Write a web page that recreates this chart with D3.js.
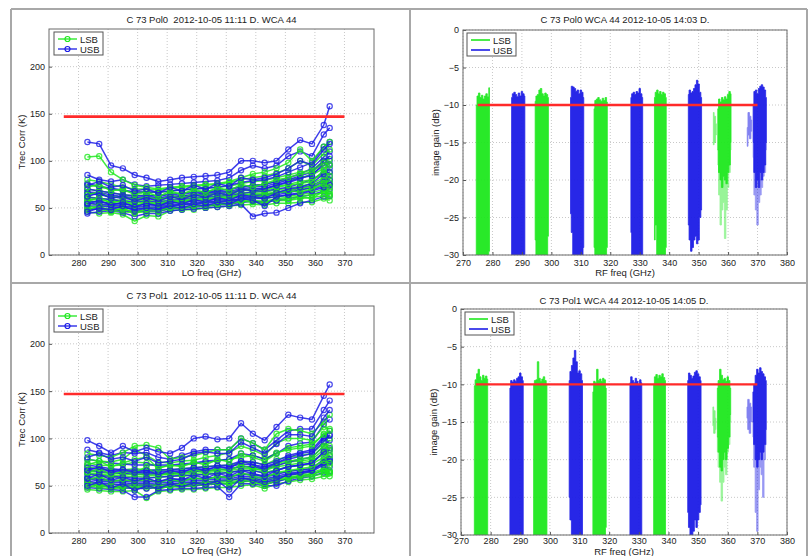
<!DOCTYPE html>
<html>
<head>
<meta charset="utf-8">
<script src="https://cdn.jsdelivr.net/npm/d3@7"></script>
<style>
  body { margin: 0; background: #fff; }
  text { font-family: "Liberation Sans", Arial, sans-serif; fill: #222; white-space: pre; }
  .tick text { font-size: 9px; fill: #222; }
  .tick line { stroke: #555; }
</style>
</head>
<body>
<script>
// ---- chart values ----

// LO frequencies for the Trec plots (GHz)
const LO = [283,287,291,295,299,303,307,311,315,319,323,327,331,335,339,343,347,351,355,359,363,365];
const LO_TICKS = [280,290,300,310,320,330,340,350,360,370];
const TREC_TICKS = [0,50,100,150,200];
const TREC_LIMIT = 147;
const RF_TICKS = [270,280,290,300,310,320,330,340,350,360,370,380];
const GAIN_TICKS = [0,-5,-10,-15,-20,-25,-30];
const GAIN_LIMIT = -10;
const LIMIT_RANGE = [275, 370];
const BAND_STEP = 0.5; // GHz between gain samples

// Pol0 Trec, one row per curve
const POL0_LSB = [
  [46,44,45,43,36,42,41,47,48,48,50,51,52,53,54,53,55,55,56,56,60,58],
  [50,48,47,46,45,46,46,49,50,51,52,53,55,56,57,56,58,58,60,61,63,62],
  [55,53,52,51,50,50,51,52,54,55,56,57,58,60,61,60,62,63,64,66,70,68],
  [58,56,55,54,53,54,54,55,57,58,59,60,61,63,64,64,66,67,69,71,76,74],
  [62,60,59,58,57,58,57,59,60,61,62,63,64,66,67,67,69,71,73,76,82,80],
  [66,64,62,61,60,61,60,62,63,64,65,66,67,69,70,71,73,75,78,80,86,88],
  [70,68,66,64,63,64,63,65,66,67,68,69,70,72,74,75,78,80,82,85,92,95],
  [75,72,70,68,67,67,66,68,69,70,71,72,73,76,78,79,82,85,88,90,100,102],
  [80,78,75,72,70,70,69,71,72,73,74,75,77,80,82,84,87,92,100,95,108,112],
  [104,105,88,80,74,72,70,72,73,74,75,76,78,82,86,88,92,98,112,100,115,120],
  [52,50,49,48,47,48,48,50,51,52,53,54,56,57,58,57,60,61,62,64,66,65],
  [60,58,57,56,55,56,55,57,58,59,60,61,62,64,65,65,67,69,71,73,79,77],
  [48,52,46,50,44,49,47,51,49,53,51,55,53,58,56,55,60,58,62,60,68,64],
  [57,61,55,58,52,56,53,58,55,60,57,62,59,65,62,62,66,68,67,70,75,72],
  [64,67,60,63,58,62,58,63,60,65,62,66,63,70,68,69,72,74,76,78,90,84],
  [72,75,68,70,64,67,62,68,64,70,66,72,68,75,72,76,80,82,86,88,98,96]
];
const POL0_USB = [
  [44,46,47,45,41,44,44,47,48,49,50,51,52,54,41,44,45,50,55,58,62,63],
  [48,49,48,47,46,47,47,49,50,51,52,53,54,56,57,56,58,60,62,64,68,70],
  [52,52,51,50,49,50,50,52,53,54,55,56,57,59,60,60,62,64,66,69,74,76],
  [57,56,55,54,53,54,53,55,56,57,58,59,60,62,63,64,66,68,71,74,80,84],
  [61,60,59,57,56,57,56,58,59,60,61,62,63,65,67,68,70,72,76,80,88,92],
  [65,64,62,60,59,60,59,61,62,63,64,65,66,68,70,71,74,77,81,86,95,100],
  [70,68,66,64,63,63,63,64,65,66,67,68,70,72,74,75,78,82,86,92,104,110],
  [76,73,71,69,67,67,67,68,69,70,71,72,74,77,79,80,83,88,93,98,115,120],
  [85,80,78,80,75,73,74,75,76,77,78,79,82,90,95,92,95,105,110,105,128,135],
  [120,118,95,92,85,82,78,80,82,83,84,85,88,100,100,98,100,112,122,118,138,158],
  [55,54,53,52,51,52,52,53,54,55,56,57,58,60,62,62,64,66,69,72,78,80],
  [67,66,64,62,61,62,61,62,63,64,66,67,68,70,72,73,76,80,84,88,100,105],
  [46,50,48,52,47,50,48,52,50,54,52,56,54,60,58,52,62,64,65,68,72,74],
  [54,58,53,56,51,55,52,57,54,59,56,61,58,64,62,60,66,70,72,76,86,88],
  [62,66,60,63,57,61,57,62,59,64,61,66,63,70,68,70,74,78,82,84,98,96],
  [74,78,72,74,68,70,66,72,68,74,70,76,73,82,80,82,86,92,100,96,112,118]
];

// Pol1 Trec
const POL1_LSB = [
  [46,45,44,44,45,37,44,45,46,46,47,48,48,50,51,47,52,54,56,57,60,60],
  [50,48,47,47,48,47,48,49,49,50,51,52,52,54,55,51,55,57,59,60,63,63],
  [54,52,51,51,52,51,51,52,52,53,54,55,56,58,58,56,59,61,63,64,68,66],
  [58,56,55,55,56,55,55,56,56,57,58,59,60,62,62,60,63,65,67,68,74,72],
  [62,60,59,59,60,59,59,60,60,61,62,63,64,66,66,64,67,70,71,73,80,78],
  [66,64,63,63,64,63,62,63,64,65,66,67,68,70,70,68,72,75,76,78,88,85],
  [70,68,67,67,68,67,66,67,68,69,70,71,72,74,75,72,78,80,82,84,95,92],
  [74,72,71,72,75,74,70,71,72,73,75,76,78,80,82,78,85,88,90,92,105,100],
  [78,76,75,78,88,82,75,74,76,77,80,82,85,92,88,82,95,100,100,98,112,110],
  [84,82,80,85,92,93,90,78,80,82,85,88,88,100,95,88,105,110,108,105,118,125],
  [52,50,49,49,50,49,50,51,51,52,53,54,54,56,57,53,57,59,61,62,66,64],
  [64,62,61,61,62,61,61,62,62,63,64,65,66,68,68,66,70,72,74,76,84,82],
  [48,52,47,50,47,50,46,50,48,52,50,54,51,56,54,50,56,58,60,62,66,64],
  [56,60,54,57,54,58,53,57,54,59,56,60,58,64,60,58,64,66,68,70,76,74],
  [64,68,62,65,64,70,60,65,62,67,64,68,66,72,68,66,74,76,78,80,92,88],
  [72,76,70,74,78,80,68,72,70,75,72,78,75,84,80,76,84,90,92,94,104,108]
];
const POL1_USB = [
  [48,47,46,45,38,38,45,46,47,47,48,49,38,52,52,50,50,55,58,60,64,65],
  [52,50,49,48,47,47,48,49,50,50,51,52,52,55,55,52,54,58,60,62,67,70],
  [55,53,52,51,50,50,51,52,53,53,54,55,55,58,58,55,58,61,63,65,72,75],
  [59,57,56,55,54,54,55,56,57,57,58,59,59,62,62,59,62,65,67,68,78,82],
  [63,61,60,59,58,58,59,60,61,61,62,63,64,66,66,63,66,70,72,74,85,90],
  [67,65,64,63,62,62,63,63,64,65,66,67,68,70,70,67,71,75,78,80,92,98],
  [72,70,68,67,66,66,67,67,68,69,70,71,72,76,75,72,76,82,85,88,102,108],
  [78,76,74,73,72,72,72,72,73,74,76,77,78,84,82,78,84,92,95,96,115,120],
  [88,85,82,85,84,85,80,78,82,86,88,88,88,100,95,88,98,108,110,110,130,140],
  [98,92,85,92,86,90,86,84,90,100,102,99,100,116,105,98,112,125,122,120,145,157],
  [57,55,54,53,52,52,53,54,55,55,56,57,57,60,60,57,60,63,65,66,75,78],
  [69,67,66,65,64,64,65,65,66,67,68,69,70,73,72,70,74,78,81,84,97,103],
  [50,54,48,52,45,50,47,52,49,53,51,55,46,58,56,54,56,62,64,66,74,76],
  [58,62,56,59,55,58,54,58,56,61,58,63,60,66,63,60,66,70,72,74,86,88],
  [66,70,64,67,64,66,62,66,64,69,66,71,68,76,72,68,74,80,84,86,100,104],
  [80,84,78,80,76,80,74,76,78,84,86,84,84,96,90,84,94,104,104,102,122,130]
];

// Image gain bands: start freq, top edge, bottom edge (dB), sampled every BAND_STEP
const POL0_LSB_START = [274.5, 294.5, 314.5, 335, 356.5];
const POL0_LSB_TOP = [
  [-10.0,-8.8,-8.4,-9.0,-8.7,-9.2,-8.8,-8.5,-8.9,-7.7],
  [-9.5,-8.8,-8.6,-8.0,-7.8,-8.5,-8.8,-8.4,-8.6,-9.0],
  [-10.5,-9.4,-9.2,-9.0,-9.3,-9.5,-9.1,-9.4,-9.0,-9.6],
  [-9.0,-8.3,-8.0,-8.5,-8.2,-8.6,-8.3,-8.5,-9.0],
  [-10.5,-9.2,-9.6,-9.0,-9.3,-8.9,-9.2,-8.6,-8.2,-8.5]
];
const POL0_LSB_BOT = [
  [-31,-31,-31,-31,-31,-31,-31,-31,-31,-29.5],
  [-28,-31,-31,-31,-31,-31,-31,-31,-31,-27.5],
  [-29,-31,-31,-31,-31,-31,-31,-31,-31,-29],
  [-28,-26,-31,-31,-31,-31,-31,-31,-29],
  [-16,-19,-20,-21,-19.5,-20,-20.5,-19,-18,-15]
];
const POL0_LSB_TAIL = [null, null, null, null, [-18,-22,-26,-24,-23,-27.8,-24,-21,-19,-16]];
const POL0_USB_START = [286.5, 306.5, 327, 346.5, 368.5];
const POL0_USB_TOP = [
  [-9.0,-8.5,-8.3,-8.6,-8.9,-8.4,-8.8,-8.2,-8.5,-8.8],
  [-9.0,-7.5,-7.6,-7.8,-8.2,-8.0,-8.5,-8.0,-8.3,-9.0],
  [-9.0,-8.5,-8.3,-8.6,-8.2,-8.4,-7.8,-8.5,-9.0],
  [-8.6,-8.0,-8.4,-8.2,-7.8,-7.3,-6.7,-7.2,-8.3,-9.0],
  [-10,-8.2,-8.0,-8.5,-7.8,-7.5,-7.3,-7.6,-8.0,-9.0]
];
const POL0_USB_BOT = [
  [-31,-31,-31,-31,-31,-31,-31,-31,-31,-31],
  [-24.5,-27,-31,-31,-31,-31,-31,-31,-31,-29],
  [-27,-31,-31,-31,-31,-31,-31,-31,-31],
  [-26,-28,-29.5,-29,-28,-27.5,-28.5,-28,-25,-24],
  [-15,-19,-21,-20,-21,-19,-20,-19,-18,-15]
];
const POL0_USB_TAIL = [null, null, null, null, [-17,-22,-24,-26,-23,-22,-21,-19.5,-19,-16]];
// faint fragments next to the last two bands: start, top, bottom
const POL0_FAINT_LSB = [355, [-11,-11.5,-12.5], [-15.3,-15,-14]];
const POL0_FAINT_USB = [366.5, [-13,-11,-11.5,-12], [-15.5,-14,-14.5,-13.5]];

const POL1_LSB_START = [274.5, 294.5, 314.5, 335, 356.5];
const POL1_LSB_TOP = [
  [-10.2,-9.4,-8.6,-8.0,-9.0,-9.5,-8.8,-9.2,-8.9,-9.3],
  [-10,-9.5,-9.4,-7.0,-9.2,-9.6,-9.3,-9.0,-9.5,-10],
  [-11,-9.6,-9.8,-8.0,-9.5,-9.3,-9.6,-9.2,-9.4,-10.5],
  [-10,-9.0,-8.7,-9.2,-8.8,-9.0,-8.6,-9.1,-9.5],
  [-10.5,-9.5,-8.0,-8.8,-9.4,-9.2,-9.6,-9.0,-9.5,-10.5]
];
const POL1_LSB_BOT = [
  [-31,-31,-31,-31,-31,-31,-31,-31,-31,-30],
  [-31,-31,-31,-31,-31,-31,-31,-31,-31,-31],
  [-30,-31,-31,-31,-31,-31,-31,-31,-31,-29],
  [-31,-31,-31,-31,-31,-31,-31,-31,-31],
  [-17,-19,-21,-21.5,-20,-19,-20,-18.5,-17,-14]
];
const POL1_LSB_TAIL = [null, null, null, null, [-19,-21,-23,-25.5,-23,-21,-22,-19,-18,-15]];
const POL1_USB_START = [286.5, 306.5, 327, 346.5, 368.5];
const POL1_USB_TOP = [
  [-10.5,-9.5,-9.7,-9.4,-9.6,-9.2,-9.0,-8.5,-9.0,-9.5],
  [-9.5,-8.3,-7.5,-6.5,-5.5,-7.0,-8.5,-8.2,-8.6,-9.5],
  [-9.8,-9.0,-9.5,-9.8,-9.2,-9.6,-10,-9.4,-9.8],
  [-9.5,-8.5,-8.8,-9.2,-8.9,-8.4,-8.2,-8.6,-9.0,-9.5],
  [-11,-10,-8.8,-8.0,-8.5,-7.8,-8.3,-8.6,-9.0,-9.5]
];
const POL1_USB_BOT = [
  [-31,-31,-31,-31,-31,-31,-31,-31,-31,-31],
  [-25,-28,-31,-31,-31,-31,-31,-31,-31,-30],
  [-31,-31,-31,-31,-31,-31,-31,-31,-31],
  [-27,-29,-30,-31,-29.5,-28,-29,-28,-27,-26],
  [-15,-18,-20,-21,-20,-19,-20,-19,-18,-16]
];
const POL1_USB_TAIL = [null, null, null, null, [-17,-21,-27,-29.5,-24,-21,-22,-25,-20,-18]];
const POL1_FAINT_LSB = [355, [-13,-13.5,-14.5], [-15.5,-16.5,-16]];
const POL1_FAINT_USB = [366.5, [-13,-12,-12.5,-13], [-14.5,-16,-16.5,-15]];

// ---- drawing ----
const WIDTH = 811, HEIGHT = 556;
const GREEN = '#1ee81e', BLUE = '#1c1ce6', RED = '#ff2a2a';

const svg = d3.select('body').append('svg')
  .attr('width', WIDTH).attr('height', HEIGHT);
svg.append('rect').attr('width', WIDTH).attr('height', HEIGHT).attr('fill', '#fff');

// panel frame lines
const FRAME = [[11, 9, 807, 9], [11, 9, 11, 556], [410, 9, 410, 556], [807, 9, 807, 556], [11, 283, 807, 283]];
svg.selectAll('line.frame').data(FRAME).enter().append('line')
  .attr('class', 'frame')
  .attr('x1', d => d[0]).attr('y1', d => d[1]).attr('x2', d => d[2]).attr('y2', d => d[3])
  .attr('stroke', '#a8a8a8').attr('stroke-width', 2);

let clipId = 0;

function grid(g, box, x, y, xTicks, yTicks) {
  // dotted grid
  g.selectAll('line.gx').data(xTicks).enter().append('line')
    .attr('x1', d => x(d)).attr('x2', d => x(d)).attr('y1', box.t).attr('y2', box.b)
    .attr('stroke', '#c8c8c8').attr('stroke-dasharray', '1,2');
  g.selectAll('line.gy').data(yTicks).enter().append('line')
    .attr('y1', d => y(d)).attr('y2', d => y(d)).attr('x1', box.l).attr('x2', box.r)
    .attr('stroke', '#c8c8c8').attr('stroke-dasharray', '1,2');
}

function finishAxes(g, box, x, y, xTicks, yTicks, xLabel, yLabel, title, titleY, xLabelY, pad) {
  const xa = g.append('g').attr('transform', 'translate(0,' + box.b + ')')
    .call(d3.axisBottom(x).tickValues(xTicks).tickSizeInner(-3).tickSizeOuter(0).tickPadding(pad));
  xa.select('.domain').remove();
  const ya = g.append('g').attr('transform', 'translate(' + box.l + ',0)')
    .call(d3.axisLeft(y).tickValues(yTicks).tickSizeInner(-3).tickSizeOuter(0).tickPadding(4));
  ya.select('.domain').remove();
  g.append('rect')
    .attr('x', box.l).attr('y', box.t).attr('width', box.r - box.l).attr('height', box.b - box.t)
    .attr('fill', 'none').attr('stroke', '#6a6a6a').attr('stroke-width', 1);
  g.append('text').attr('x', (box.l + box.r) / 2).attr('y', xLabelY)
    .attr('text-anchor', 'middle').attr('font-size', '9.5px').text(xLabel);
  g.append('text')
    .attr('transform', 'translate(' + (box.l - 24) + ',' + ((box.t + box.b) / 2) + ') rotate(-90)')
    .attr('text-anchor', 'middle').attr('font-size', '9.5px').text(yLabel);
  g.append('text').attr('x', (box.l + box.r) / 2).attr('y', titleY)
    .attr('text-anchor', 'middle').attr('font-size', '9.5px').text(title);
}

function legend(g, lx, ly, markers) {
  g.append('rect').attr('x', lx).attr('y', ly).attr('width', 49).attr('height', 23)
    .attr('fill', '#fff').attr('stroke', '#555').attr('stroke-width', 1);
  [['LSB', GREEN, 7], ['USB', BLUE, 17]].forEach(e => {
    g.append('line').attr('x1', lx + 4).attr('x2', lx + 23).attr('y1', ly + e[2]).attr('y2', ly + e[2])
      .attr('stroke', e[1]).attr('stroke-width', markers ? 1.3 : 1.6);
    if (markers) {
      g.append('circle').attr('cx', lx + 13.5).attr('cy', ly + e[2]).attr('r', 2.5)
        .attr('fill', 'none').attr('stroke', e[1]).attr('stroke-width', 1.2);
    }
    g.append('text').attr('x', lx + 26).attr('y', ly + e[2] + 3.5)
      .attr('font-size', '9.5px').text(e[0]);
  });
}

function trecPanel(box, title, titleY, lsb, usb) {
  const g = svg.append('g');
  const x = d3.scaleLinear().domain([270, 380]).range([box.l, box.r]);
  const y = d3.scaleLinear().domain([0, 240]).range([box.b, box.t]);
  grid(g, box, x, y, LO_TICKS, TREC_TICKS);

  const id = 'clip' + (clipId++);
  g.append('clipPath').attr('id', id).append('rect')
    .attr('x', box.l).attr('y', box.t).attr('width', box.r - box.l).attr('height', box.b - box.t);
  const plot = g.append('g').attr('clip-path', 'url(#' + id + ')');

  const line = d3.line().x((d, i) => x(LO[i])).y(d => y(d));
  // interleave the two sidebands so neither colour sits fully on top
  const curves = [];
  for (let i = 0; i < Math.max(lsb.length, usb.length); i++) {
    if (lsb[i]) curves.push({ v: lsb[i], c: GREEN });
    if (usb[i]) curves.push({ v: usb[i], c: BLUE });
  }
  curves.forEach(cv => {
    plot.append('path').datum(cv.v).attr('d', line)
      .attr('fill', 'none').attr('stroke', cv.c).attr('stroke-width', 1.5).attr('opacity', 0.85);
    plot.selectAll(null).data(cv.v).enter().append('circle')
      .attr('cx', (d, i) => x(LO[i])).attr('cy', d => y(d)).attr('r', 2.6)
      .attr('fill', 'none').attr('stroke', cv.c).attr('stroke-width', 1.2).attr('opacity', 0.8);
  });

  plot.append('line')
    .attr('x1', x(LIMIT_RANGE[0])).attr('x2', x(LIMIT_RANGE[1]))
    .attr('y1', y(TREC_LIMIT)).attr('y2', y(TREC_LIMIT))
    .attr('stroke', RED).attr('stroke-width', 2.6);

  finishAxes(g, box, x, y, LO_TICKS, TREC_TICKS, 'LO freq (GHz)', 'Trec Corr (K)', title, titleY, box.b + 21, 5);
  legend(g, box.l + 5, box.t + 3, true);
}

function gainPanel(box, title, titleY, xLabelY, pad, lsbSet, usbSet, faintL, faintU) {
  const g = svg.append('g');
  const x = d3.scaleLinear().domain([270, 380]).range([box.l, box.r]);
  const y = d3.scaleLinear().domain([-30, 0]).range([box.b, box.t]);
  grid(g, box, x, y, RF_TICKS, GAIN_TICKS);

  const id = 'clip' + (clipId++);
  g.append('clipPath').attr('id', id).append('rect')
    .attr('x', box.l).attr('y', box.t).attr('width', box.r - box.l).attr('height', box.b - box.t);
  const plot = g.append('g').attr('clip-path', 'url(#' + id + ')');

  function patch(start, top, bot, color, opacity) {
    const pts = top.map((t, i) => ({ f: start + i * BAND_STEP, t: t, b: bot[i] }));
    plot.append('path').datum(pts)
      .attr('d', d3.area().x(d => x(d.f)).y0(d => y(d.b)).y1(d => y(d.t)).curve(d3.curveStep))
      .attr('fill', color).attr('stroke', color).attr('stroke-width', 0.8).attr('opacity', opacity);
  }

  [[lsbSet, GREEN], [usbSet, BLUE]].forEach(s => {
    const [starts, tops, bots, tails] = s[0];
    starts.forEach((st, i) => {
      if (tails[i]) patch(st, bots[i], tails[i], s[1], 0.45);
      patch(st, tops[i], bots[i], s[1], 0.95);
    });
  });
  patch(faintL[0], faintL[1], faintL[2], GREEN, 0.55);
  patch(faintU[0], faintU[1], faintU[2], BLUE, 0.55);

  plot.append('line')
    .attr('x1', x(LIMIT_RANGE[0])).attr('x2', x(LIMIT_RANGE[1]))
    .attr('y1', y(GAIN_LIMIT)).attr('y2', y(GAIN_LIMIT))
    .attr('stroke', RED).attr('stroke-width', 2.4);

  finishAxes(g, box, x, y, RF_TICKS, GAIN_TICKS, 'RF freq (GHz)', 'image gain (dB)', title, titleY, xLabelY, pad);
  legend(g, box.l + 4, box.t + 3, false);
}

trecPanel({ l: 49, r: 374, t: 29, b: 255 }, 'C 73 Pol0  2012-10-05 11:11 D. WCA 44', 23, POL0_LSB, POL0_USB);
trecPanel({ l: 49, r: 374, t: 306, b: 533 }, 'C 73 Pol1  2012-10-05 11:11 D. WCA 44', 299, POL1_LSB, POL1_USB);
gainPanel({ l: 463, r: 787, t: 30, b: 255 }, 'C 73 Pol0 WCA 44 2012-10-05 14:03 D.', 23, 276, 5,
  [POL0_LSB_START, POL0_LSB_TOP, POL0_LSB_BOT, POL0_LSB_TAIL],
  [POL0_USB_START, POL0_USB_TOP, POL0_USB_BOT, POL0_USB_TAIL],
  POL0_FAINT_LSB, POL0_FAINT_USB);
gainPanel({ l: 461, r: 787, t: 309, b: 535 }, 'C 73 Pol1 WCA 44 2012-10-05 14:05 D.', 304, 555, 3,
  [POL1_LSB_START, POL1_LSB_TOP, POL1_LSB_BOT, POL1_LSB_TAIL],
  [POL1_USB_START, POL1_USB_TOP, POL1_USB_BOT, POL1_USB_TAIL],
  POL1_FAINT_LSB, POL1_FAINT_USB);
</script>
</body>
</html>
